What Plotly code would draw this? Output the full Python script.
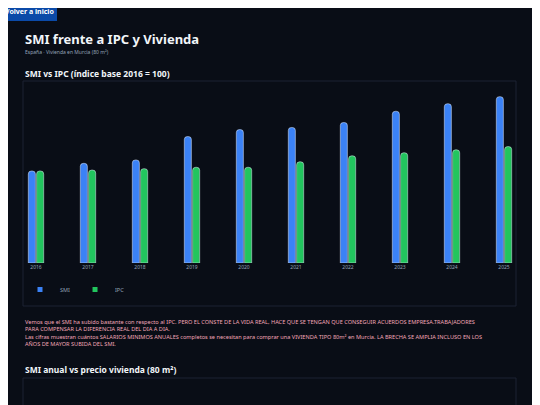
import plotly.graph_objects as go

years = ["2016", "2017", "2018", "2019", "2020", "2021", "2022", "2023", "2024", "2025"]
smi = [100, 108.3, 112, 137.4, 145, 147.3, 152.7, 164.9, 173.1, 180.8]
ipc = [100, 101, 102.5, 104, 104, 110, 116.5, 119.8, 123, 126.5]

W, H = 540, 405
OFF = 8  # page body margin in the browser
bg = "#090d16"
blue, green = "#3b82f6", "#22c55e"

def px(x):
    return (x - OFF) / W

def py(y):
    return 1 - (y - OFF) / H

fig = go.Figure()
fig.add_trace(go.Bar(x=years, y=smi, name="SMI", showlegend=False,
                     marker=dict(color=blue, cornerradius=3)))
fig.add_trace(go.Bar(x=years, y=ipc, name="IPC", showlegend=False,
                     marker=dict(color=green, cornerradius=3)))
# small legend swatches
for name, col in [("SMI", blue), ("IPC", green)]:
    fig.add_trace(go.Scatter(x=[None], y=[None], mode="markers", name=name,
                             marker=dict(color=col, size=5, symbol="square")))

# page furniture: button, panel boxes
shapes = [
    dict(type="rect", xref="paper", yref="paper", x0=px(0), x1=px(57), y0=py(21), y1=py(3),
         fillcolor="#0b4aa8", line=dict(width=0), layer="below"),
    dict(type="rect", xref="paper", yref="paper", x0=px(23), x1=px(516), y0=py(306), y1=py(81),
         line=dict(color="#1c2333", width=1), layer="below"),
    dict(type="rect", xref="paper", yref="paper", x0=px(23), x1=px(516), y0=py(420), y1=py(378),
         line=dict(color="#1c2333", width=1), layer="below"),
]

font = "Noto Sans"
texts = [
    (3, 12, "<b>Volver a inicio</b>", 7, "#ffffff"),
    (23, 39, "<b>SMI frente a IPC y Vivienda</b>", 13, "#f1f5f9"),
    (23, 52, "España · Vivienda en Murcia (80 m²)", 5, "#94a3b8"),
    (23, 73, "<b>SMI vs IPC (índice base 2016 = 100)</b>", 8.5, "#f1f5f9"),
    (23, 333, "Vemos que el SMI ha subido bastante con respecto al IPC. PERO EL CONSTE DE LA VIDA REAL, HACE QUE SE TENGAN QUE CONSEGUIR ACUERDOS EMPRESA.TRABAJADORES<br>"
              "PARA COMPENSAR LA DIFERENCIA REAL DEL DIA A DIA.<br>"
              "Las cifras muestran cuántos SALARIOS MINIMOS ANUALES completos se necesitan para comprar una VIVIENDA TIPO 80m² en Murcia. LA BRECHA SE AMPLIA INCLUSO EN LOS<br>"
              "AÑOS DE MAYOR SUBIDA DEL SMI.", 5.6, "#f2a7b8"),
    (23, 369, "<b>SMI anual vs precio vivienda (80 m²)</b>", 8.5, "#f1f5f9"),
]
annotations = [
    dict(x=px(x), y=py(y), xref="paper", yref="paper", text=t, showarrow=False,
         xanchor="left", yanchor="middle", align="left",
         font=dict(family=font, size=s, color=c))
    for x, y, t, s, c in texts
]

fig.update_layout(
    width=W, height=H,
    margin=dict(l=0, r=0, t=0, b=0),
    paper_bgcolor=bg, plot_bgcolor=bg,
    font=dict(family=font, color="#94a3b8", size=5),
    barmode="group", bargap=0.68, bargroupgap=0.15,
    shapes=shapes, annotations=annotations,
    legend=dict(orientation="h", x=px(20), y=py(275), xanchor="left", yanchor="top",
                font=dict(size=5.5, color="#94a3b8"), itemwidth=30,
                tracegroupgap=0, bgcolor="rgba(0,0,0,0)"),
    xaxis=dict(domain=[px(10), px(530)], showgrid=False, zeroline=False, showline=False,
               tickfont=dict(size=5, color="#94a3b8"), ticklen=0),
    yaxis=dict(domain=[py(263), py(79)], range=[0, 200], visible=False),
)

fig.write_html("out.html")
